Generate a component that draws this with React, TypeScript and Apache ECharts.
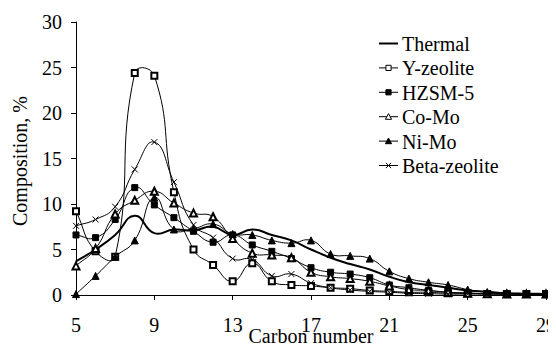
import React, { useEffect, useRef } from "react";
import * as echarts from "echarts";

const carbon = [5, 6, 7, 8, 9, 10, 11, 12, 13, 14, 15, 16, 17, 18, 19, 20, 21, 22, 23, 24, 25, 26, 27, 28, 29];
const thermal = [3.7, 5.0, 6.6, 8.7, 6.8, 7.2, 7.1, 7.5, 6.6, 7.2, 6.6, 6.0, 5.0, 4.1, 3.4, 2.8, 2.0, 1.4, 1.1, 0.8, 0.5, 0.35, 0.2, 0.15, 0.1];
const yZeolite = [9.2, 4.8, 4.2, 24.4, 24.1, 11.3, 5.0, 3.3, 1.5, 3.5, 1.5, 1.1, 1.0, 0.8, 0.7, 0.5, 0.4, 0.3, 0.3, 0.2, 0.2, 0.1, 0.1, 0.1, 0.1];
const hzsm5 = [6.6, 6.3, 8.3, 11.8, 9.9, 8.5, 7.0, 5.8, 6.6, 5.5, 4.8, 4.0, 3.0, 2.5, 2.3, 1.9, 1.1, 0.8, 0.5, 0.3, 0.2, 0.15, 0.1, 0.1, 0.1];
const coMo = [3.2, 5.1, 8.9, 10.4, 11.4, 10.1, 9.0, 8.6, 6.2, 4.6, 4.4, 4.1, 2.5, 2.0, 1.8, 1.5, 1.0, 0.6, 0.5, 0.3, 0.2, 0.15, 0.1, 0.1, 0.1];
const niMo = [0.1, 2.1, 4.2, 6.0, 10.7, 7.2, 7.3, 7.8, 6.7, 6.6, 6.0, 5.7, 6.0, 4.5, 4.3, 4.0, 2.6, 1.8, 1.4, 1.1, 0.6, 0.3, 0.2, 0.15, 0.1];
const betaZeolite = [7.6, 8.3, 9.7, 13.8, 16.8, 12.4, 7.7, 6.3, 4.0, 3.9, 2.1, 2.3, 1.3, 0.8, 0.55, 0.4, 0.3, 0.2, 0.15, 0.1, 0.1, 0.1];
const yTicks = [0, 5, 10, 15, 20, 25, 30];
const xTickLabels = [5, 9, 13, 17, 21, 25, 29];
const seriesNames = ["Thermal", "Y-zeolite", "HZSM-5", "Co-Mo", "Ni-Mo", "Beta-zeolite"];

const FONT = "Liberation Serif";
const CROSS = "path://M0 0L10 10M10 0L0 10";
const SMOOTH = 0.5;

function smoothPath(pts: number[][]): string {
  if (pts.length === 0) return "";
  let d = `M${pts[0][0]} ${pts[0][1]}`;
  const n = pts.length;
  const cps: { inX: number; inY: number; outX: number; outY: number }[] = [];
  for (let i = 0; i < n; i++) {
    const p = pts[i];
    const prev = pts[Math.max(0, i - 1)];
    const next = pts[Math.min(n - 1, i + 1)];
    const vx = next[0] - prev[0];
    const vy = next[1] - prev[1];
    const dPrev = Math.hypot(p[0] - prev[0], p[1] - prev[1]);
    const dNext = Math.hypot(next[0] - p[0], next[1] - p[1]);
    const tot = dPrev + dNext || 1;
    cps.push({
      inX: p[0] - vx * SMOOTH * (dPrev / tot),
      inY: p[1] - vy * SMOOTH * (dPrev / tot),
      outX: p[0] + vx * SMOOTH * (dNext / tot),
      outY: p[1] + vy * SMOOTH * (dNext / tot),
    });
  }
  for (let i = 0; i < n - 1; i++) {
    const a = cps[i];
    const b = cps[i + 1];
    const q = pts[i + 1];
    d += ` C${a.outX} ${a.outY} ${b.inX} ${b.inY} ${q[0]} ${q[1]}`;
  }
  return d;
}

const T = (text: string, x: number, y: number, align: string, extra: any = {}) => ({
  type: "text",
  x,
  y,
  silent: true,
  z: 10,
  ...extra,
  style: {
    text,
    x: 0,
    y: 0,
    fontFamily: FONT,
    fontSize: 20,
    fill: "#000",
    align,
    textAlign: align,
    verticalAlign: "middle",
    textVerticalAlign: "middle",
  },
});

function legendMarker(i: number, cx: number, cy: number): any[] {
  const s = 2.6;
  const stroke = { stroke: "#000", lineWidth: 1 };
  if (i === 1) return [{ type: "rect", shape: { x: cx - s, y: cy - s, width: 2 * s, height: 2 * s }, style: { fill: "#fff", ...stroke } }];
  if (i === 2) return [{ type: "rect", shape: { x: cx - s, y: cy - s, width: 2 * s, height: 2 * s }, style: { fill: "#000", ...stroke } }];
  if (i === 3 || i === 4) {
    return [{
      type: "polygon",
      shape: { points: [[cx, cy - s - 0.5], [cx + s + 0.5, cy + s], [cx - s - 0.5, cy + s]] },
      style: { fill: i === 3 ? "#fff" : "#000", ...stroke },
    }];
  }
  if (i === 5) {
    return [
      { type: "line", shape: { x1: cx - s, y1: cy - s, x2: cx + s, y2: cy + s }, style: stroke },
      { type: "line", shape: { x1: cx + s, y1: cy - s, x2: cx - s, y2: cy + s }, style: stroke },
    ];
  }
  return [];
}

export default function App() {
  const ref = useRef<HTMLDivElement>(null);
  useEffect(() => {
    if (!ref.current) return;
    const chart = echarts.init(ref.current, null, { renderer: "svg" });
    const curve = (data: number[], width: number) => ({
      type: "custom",
      data: [[0, 0]],
      silent: true,
      z: 1,
      renderItem: (_params: any, api: any) => {
        const pts = data.map((v, i) => api.coord([i, v]));
        return {
          type: "path",
          shape: { pathData: smoothPath(pts) },
          style: { stroke: "#000", lineWidth: width, fill: null },
        };
      },
    });
    const marks = (name: string, data: number[], symbol: string, size: number) => ({
      name,
      type: "line",
      data,
      symbol,
      symbolSize: size,
      showSymbol: true,
      lineStyle: { color: "#000", width: 0, opacity: 0 },
      itemStyle: { color: "#000", borderColor: "#000", borderWidth: 1 },
      z: 3,
    });
    chart.setOption({
      animation: false,
      backgroundColor: "#fff",
      grid: { left: 76, right: 10, top: 22, bottom: 57, outerBoundsMode: "none", containLabel: false },
      xAxis: {
        type: "category",
        data: carbon.map(String),
        boundaryGap: false,
        axisLine: { lineStyle: { color: "#000", width: 1 } },
        axisTick: { inside: false, length: 5, interval: 3, lineStyle: { color: "#000" } },
        axisLabel: { show: false, interval: 3 },
        splitLine: { show: false },
      },
      yAxis: {
        type: "value",
        min: yTicks[0],
        max: yTicks[yTicks.length - 1],
        interval: 5,
        axisLine: { show: true, lineStyle: { color: "#000", width: 1 } },
        axisTick: { show: true, inside: false, length: 5, lineStyle: { color: "#000" } },
        axisLabel: { show: false },
        splitLine: { show: false },
      },
      series: [
        curve(thermal, 2),
        curve(yZeolite, 1),
        curve(hzsm5, 1),
        curve(coMo, 1),
        curve(niMo, 1),
        curve(betaZeolite, 1),
        marks(seriesNames[1], yZeolite, "emptyRect", 6),
        marks(seriesNames[2], hzsm5, "rect", 6),
        marks(seriesNames[3], coMo, "emptyTriangle", 7),
        marks(seriesNames[4], niMo, "triangle", 7),
        marks(seriesNames[5], betaZeolite, CROSS, 6),
      ],
    });

    const elements: any[] = [];
    yTicks.forEach((v) => {
      const py = chart.convertToPixel({ yAxisIndex: 0 }, v) as number;
      elements.push(T(String(v), 62, py, "right"));
    });
    xTickLabels.forEach((c) => {
      const idx = carbon.indexOf(c);
      const px = chart.convertToPixel({ xAxisIndex: 0 }, idx) as number;
      elements.push(T(String(c), px, 325, "center"));
    });
    elements.push(T("Carbon number", 311, 336, "center"));
    elements.push(T("Composition, %", 20, 161, "center", { rotation: Math.PI / 2 }));

    seriesNames.forEach((name, i) => {
      const cy = 43.5 + i * 24.4;
      elements.push({
        type: "line",
        silent: true,
        shape: { x1: 379, y1: cy, x2: 398, y2: cy },
        style: { stroke: "#000", lineWidth: i === 0 ? 2 : 1 },
      });
      legendMarker(i, 388.5, cy).forEach((m) => elements.push({ ...m, silent: true }));
      elements.push(T(name, 402, cy + 0.5, "left"));
    });

    chart.setOption({ graphic: { elements } });
    return () => chart.dispose();
  }, []);
  return <div ref={ref} style={{ width: 556, height: 352, margin: -8 }} />;
}
